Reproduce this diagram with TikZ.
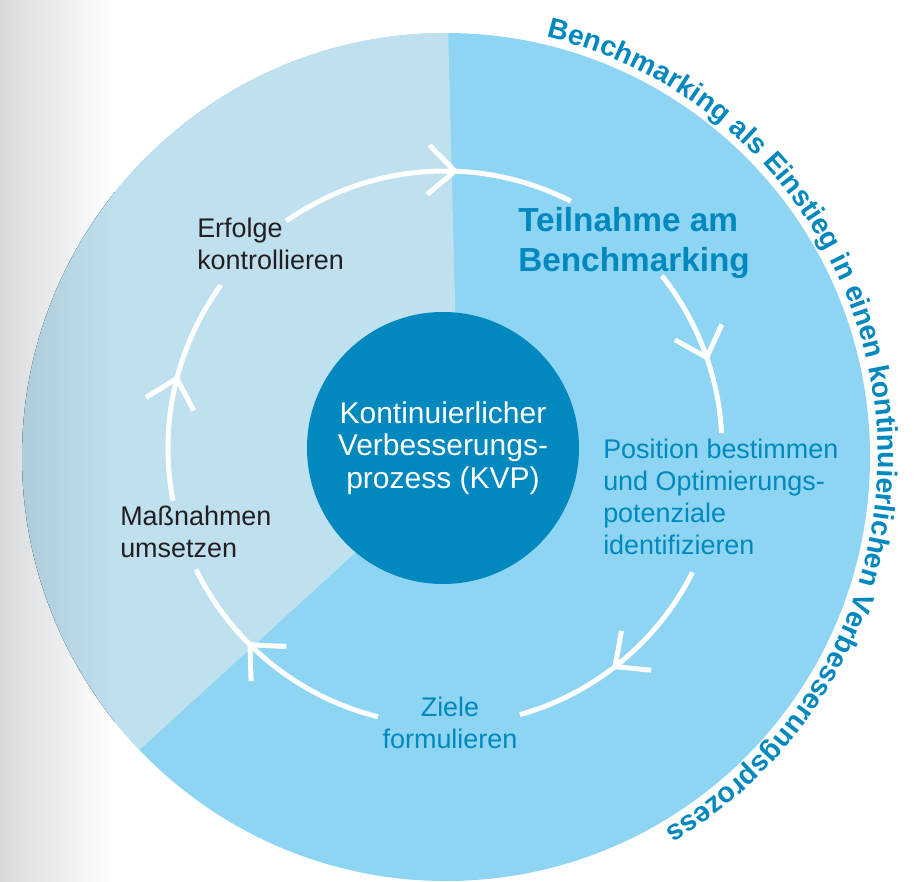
\documentclass[tikz,border=0pt]{standalone}
\usepackage{fontspec}
\setmainfont{Liberation Sans}
\usetikzlibrary{arrows.meta, decorations.markings, decorations.text, calc}

\definecolor{kvpdark}{HTML}{0088BF}
\definecolor{kvpmid}{HTML}{8DD5F3}
\definecolor{kvplight}{HTML}{BFE0EF}
\definecolor{kvpshade}{HTML}{AAC8D6}
\definecolor{pagegray}{HTML}{D8DADD}
\definecolor{inktext}{HTML}{231F20}
\newcommand\curvefont{\fontsize{21.3}{21.3}\selectfont\bfseries\color{kvpdark}}

\begin{document}
\begin{tikzpicture}[
        x=0.75pt, y=0.75pt,
        steptext/.style={inner sep=0pt, align=left, anchor=base west, font=\fontsize{20.2}{24}\selectfont},
        ring/.style={white, line width=3.75pt},
        flow/.style={ring, postaction={decorate}, decoration={markings, mark=at position #1 with {\arrow{Straight Barb[length=20pt, width=37pt]}}}}
    ]
    \useasboundingbox (-446,-425) rectangle (476,457);
    \fill[white] (-446,-425) rectangle (476,457);
    \fill[left color=pagegray, right color=white] (-446,-425) rectangle (-331,457);
    \fill[kvpmid] (0,0) circle[radius=424];
    \begin{scope}
        \clip (13,-1) -- (89.7:424) arc[start angle=89.7, end angle=223.7, radius=424] -- cycle;
        \fill[kvplight] (-446,-425) rectangle (476,457);
        \fill[left color=kvpshade, right color=kvplight] (-446,-425) rectangle (-331,457);
    \end{scope}
    \path[decorate, decoration={text along path, text align=left,
        text={|\curvefont|Benchmarking als Einstieg in einen kontinuierlichen Verbesserungsprozess}}]
        (76.5:432) arc[start angle=76.5, end angle=-85, radius=432];

    \node[circle, fill=kvpdark, minimum size=204pt, inner sep=0pt, text=white, align=center,
        font=\fontsize{22.5}{24.5}\selectfont] (kvp) at (-3,9) {Kontinuierlicher\\Verbesserungs-\\prozess (KVP)};

    \coordinate (rc) at (-1,9);
    \foreach \a/\b/\p [count=\i] in {125/63/0.61, 38.5/3.1/0.57, -26.7/-74.3/0.55, -104/-154/0.63, -169/-216/0.56} {
        \coordinate (arc\i) at ($(rc)+(\a:277)$);
        \draw[flow=\p] (arc\i) arc[start angle=\a, end angle=\b, radius=277];
    }

    \node[steptext, font=\fontsize{25}{30}\selectfont\bfseries, text=kvpdark] (teilnahme) at (72,185) {Teilnahme am\\Benchmarking};
    \node[steptext, text=kvpdark] (position) at (157,-98) {Position bestimmen\\und Optimierungs-\\potenziale\\identifizieren};
    \node[steptext, text=kvpdark, align=center, anchor=base] (ziele) at (4,-291) {Ziele\\formulieren};
    \node[steptext, text=inktext] (massnahmen) at (-326,-101) {Maßnahmen\\umsetzen};
    \node[steptext, text=inktext] (erfolge) at (-249,187) {Erfolge\\kontrollieren};
\end{tikzpicture}
\end{document}
